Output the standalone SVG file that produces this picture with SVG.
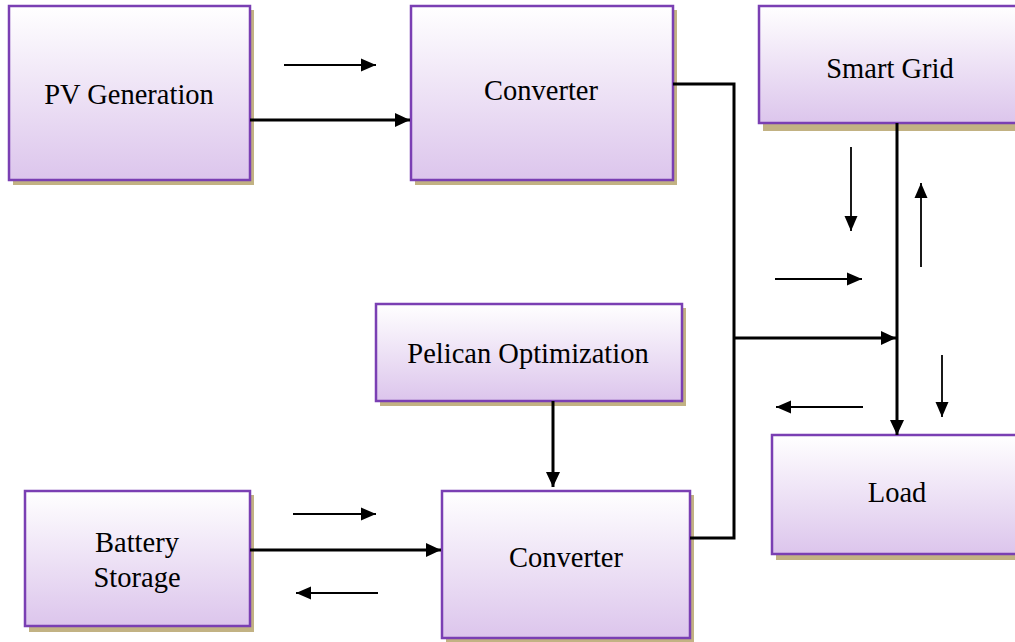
<svg xmlns="http://www.w3.org/2000/svg" width="1015" height="642" viewBox="0 0 1015 642">
<defs>
<linearGradient id="g" x1="0" y1="0" x2="0" y2="1">
<stop offset="0" stop-color="#ffffff"/>
<stop offset="1" stop-color="#dcc5ec"/>
</linearGradient>
<marker id="ah" markerUnits="userSpaceOnUse" markerWidth="16" markerHeight="16" viewBox="0 0 16 16" refX="15" refY="8" orient="auto">
<path d="M0,1 L15,8 L0,15 Z" fill="#000"/>
</marker>
<marker id="as" markerUnits="userSpaceOnUse" markerWidth="16" markerHeight="16" viewBox="0 0 16 16" refX="15" refY="8" orient="auto">
<path d="M0,1.5 L15,8 L0,14.5 Z" fill="#000"/>
</marker>
</defs>
<style>
.sh{fill:#c2b283}
.bx{fill:url(#g);stroke:#7a3fb3;stroke-width:2.5}
.t{font-family:'Liberation Serif','Times New Roman','DejaVu Serif',serif;font-size:28.5px;fill:#000;text-anchor:middle}
.th{fill:none;stroke:#000;stroke-width:3}
.tn{fill:none;stroke:#000;stroke-width:1.8}
</style>
<rect width="1015" height="642" fill="#fff"/>
<g id="pv">
<rect class="sh" x="13" y="10" width="241" height="175"/>
<rect class="bx" x="9" y="6" width="241" height="174"/>
<text class="t" x="129" y="104">PV Generation</text>
</g>
<g id="converter1">
<rect class="sh" x="415" y="10" width="262" height="175"/>
<rect class="bx" x="411" y="6" width="262" height="174"/>
<text class="t" x="541" y="100">Converter</text>
</g>
<g id="smartgrid">
<rect class="sh" x="763" y="10" width="260" height="121"/>
<rect class="bx" x="759" y="6" width="264" height="117"/>
<text class="t" x="890" y="78">Smart Grid</text>
</g>
<g id="pelican">
<rect class="sh" x="380" y="308" width="306" height="98"/>
<rect class="bx" x="376" y="304" width="306" height="97"/>
<text class="t" x="528" y="363">Pelican Optimization</text>
</g>
<g id="load">
<rect class="sh" x="776" y="439" width="250" height="121"/>
<rect class="bx" x="772" y="435" width="254" height="119"/>
<text class="t" x="897" y="502">Load</text>
</g>
<g id="battery">
<rect class="sh" x="29" y="495" width="225" height="137"/>
<rect class="bx" x="25" y="491" width="225" height="135"/>
<text class="t" x="137" y="552">Battery</text>
<text class="t" x="137" y="587">Storage</text>
</g>
<g id="converter2">
<rect class="sh" x="446" y="495" width="248" height="147"/>
<rect class="bx" x="442" y="491" width="248" height="147"/>
<text class="t" x="566" y="567">Converter</text>
</g>
<g id="connectors">
<path class="th" d="M250,120 H410" marker-end="url(#ah)"/>
<path class="th" d="M673,84 H734 V538 H690"/>
<path class="th" d="M734,338 H896" marker-end="url(#ah)"/>
<path class="th" d="M897,123 V435" marker-end="url(#ah)"/>
<path class="th" d="M553,401 V487" marker-end="url(#ah)"/>
<path class="th" d="M250,550 H441" marker-end="url(#ah)"/>
<path class="tn" d="M284,65 H376" marker-end="url(#as)"/>
<path class="tn" d="M851,147 V231" marker-end="url(#as)"/>
<path class="tn" d="M921,267 V183" marker-end="url(#as)"/>
<path class="tn" d="M775,279 H862" marker-end="url(#as)"/>
<path class="tn" d="M863,407 H776" marker-end="url(#as)"/>
<path class="tn" d="M942,355 V417" marker-end="url(#as)"/>
<path class="tn" d="M293,514 H376" marker-end="url(#as)"/>
<path class="tn" d="M378,593 H296" marker-end="url(#as)"/>
</g>
</svg>
